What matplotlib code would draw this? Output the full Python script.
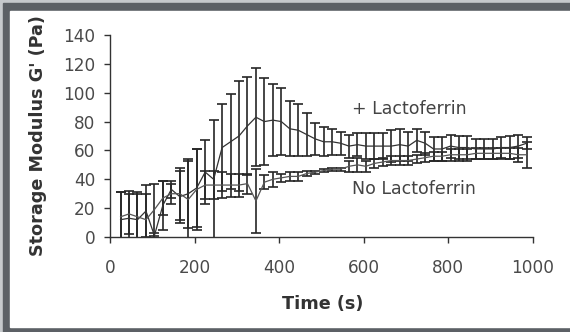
import numpy as np
import matplotlib.pyplot as plt
from matplotlib.patches import Rectangle

# time points (s)
t = np.arange(25, 1000, 20)

# + Lactoferrin
lf_mean = [12, 13, 12, 18, 1, 22, 33, 28, 30, 34, 45, 40, 62, 66, 70, 77, 83, 80, 81, 80,
           75, 74, 71, 68, 66, 66, 65, 63, 64, 63, 63, 63, 63, 64, 63, 67, 65, 61, 61, 63,
           62, 62, 61, 61, 61, 62, 62, 63, 65]
lf_err = [19, 19, 19, 18, 2, 17, 6, 18, 24, 27, 22, 41, 30, 33, 38, 34, 34, 30, 25, 23,
          19, 18, 15, 11, 10, 9, 8, 8, 8, 9, 9, 9, 11, 11, 10, 8, 8, 8, 8, 8,
          8, 8, 7, 7, 7, 7, 8, 8, 4]

# No Lactoferrin
no_mean = [14, 16, 14, 12, 19, 27, 30, 30, 26, 33, 36, 36, 36, 36, 36, 37, 25, 38, 40, 41,
           42, 42, 44, 45, 46, 47, 47, 49, 50, 49, 51, 52, 53, 53, 53, 54, 55, 56, 56, 57,
           57, 57, 58, 58, 58, 58, 58, 57, 57]
no_err = [17, 14, 16, 18, 18, 12, 7, 18, 27, 28, 10, 10, 9, 8, 8, 7, 22, 5, 5, 3,
          3, 3, 2, 1, 1, 1, 1, 4, 5, 4, 3, 3, 3, 3, 3, 3, 3, 3, 3, 4,
          4, 4, 4, 4, 4, 4, 4, 5, 9]

xticks = [0, 200, 400, 600, 800, 1000]
yticks = [0, 20, 40, 60, 80, 100, 120, 140]

W, H = 570, 332
fig = plt.figure(figsize=(W / 100, H / 100), dpi=100)
fig.patch.set_facecolor('#c6c9cc')
# dark frame and white panel
fig.patches.append(Rectangle((3 / W, 0), 1, 1 - 3 / H, transform=fig.transFigure,
                             color='#5c6065', zorder=-5))
fig.patches.append(Rectangle((10 / W, 5 / H), 1, 1 - 16 / H, transform=fig.transFigure,
                             color='white', zorder=-4))

ax = fig.add_axes([110 / W, 1 - 237 / H, 423 / W, 202 / H])
ax.set_facecolor('none')

ax.errorbar(t, lf_mean, yerr=lf_err, color='#333333', lw=0.9, elinewidth=1.2,
            ecolor='#262626', capsize=3.5, capthick=1.2)
ax.errorbar(t, no_mean, yerr=no_err, color='#555555', lw=0.9, elinewidth=1.2,
            ecolor='#262626', capsize=3.5, capthick=1.2)

ax.text(572, 89, '+ Lactoferrin', fontsize=12.5, color='#444444', ha='left', va='center')
ax.text(572, 33, 'No Lactoferrin', fontsize=12.5, color='#444444', ha='left', va='center')

ax.set_xlim(0, 1000)
ax.set_ylim(0, 140)
ax.set_xticks(xticks)
ax.set_yticks(yticks)
ax.spines['top'].set_visible(False)
ax.spines['right'].set_visible(False)
for s in ['left', 'bottom']:
    ax.spines[s].set_color('#333333')
    ax.spines[s].set_linewidth(1.0)
ax.tick_params(axis='x', length=4.5, width=1, color='#333333', labelsize=12.2,
               labelcolor='#4a4a4a', pad=11)
ax.tick_params(axis='y', length=4.5, width=1, color='#333333', labelsize=12.2,
               labelcolor='#4a4a4a', pad=6)

ax.set_xlabel('Time (s)', fontsize=12.7, fontweight='bold', color='#333333')
ax.set_ylabel("Storage Modulus G' (Pa)", fontsize=12.7, fontweight='bold', color='#333333')
ax.xaxis.set_label_coords(0.502, -0.287)
ax.yaxis.set_label_coords(-0.15, 0.5)

fig.savefig('out.png', dpi=100)
